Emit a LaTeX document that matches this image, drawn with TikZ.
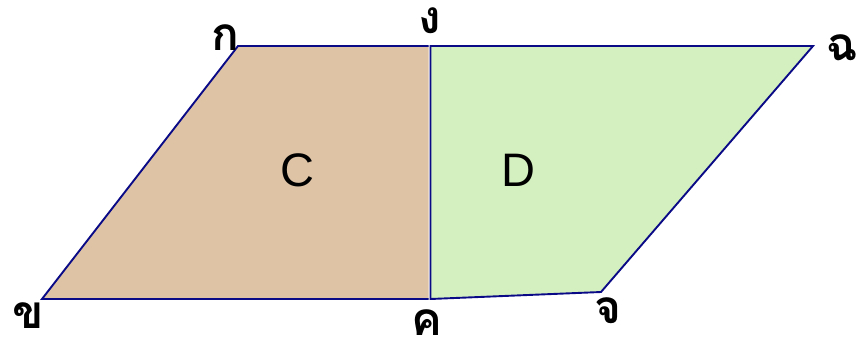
\documentclass[tikz,border=0pt]{standalone}
\usepackage{fontspec}
\setmainfont{Liberation Sans}
\newfontfamily\thaifont[Script=Thai]{Loma}
\definecolor{navyline}{RGB}{10,10,135}
\definecolor{tanfill}{RGB}{222,195,165}
\definecolor{greenfill}{RGB}{212,240,192}
\tikzset{
  shapeline/.style={draw=navyline, line width=1.9pt, line join=miter},
  thailabel/.style={font=\thaifont\bfseries\fontsize{46}{48}\selectfont, inner sep=0pt, anchor=base, text depth=0pt},
  regionlabel/.style={font=\fontsize{47}{50}\selectfont, inner sep=0pt, anchor=base}
}
\begin{document}
\begin{tikzpicture}[x=1pt,y=-1pt]
\useasboundingbox (0,0) rectangle (859,338);
\coordinate (A) at (238,46);
\coordinate (G) at (428.5,46);
\coordinate (G2) at (430.5,46);
\coordinate (F) at (813,46);
\coordinate (B) at (42,299);
\coordinate (K) at (428.5,299);
\coordinate (K2) at (430.5,299);
\coordinate (J) at (601,292);
\fill[tanfill] (A) -- (G) -- (K) -- (B) -- cycle;
\draw[shapeline] (G) -- (A) -- (B) -- (K);
\draw[shapeline, fill=greenfill] (G2) -- (F) -- (J) -- (K2) -- cycle;
\node[thailabel] (lA) at (225,50) {ก};
\node[thailabel] (lG) at (430,33) {ง};
\node[thailabel] (lF) at (842,60) {ฉ};
\node[thailabel] (lB) at (28,328) {ข};
\node[thailabel] (lK) at (427,335) {ค};
\node[thailabel] (lJ) at (608,323) {จ};
\node[regionlabel] (C) at (297,186.5) {C};
\node[regionlabel] (D) at (518,186.5) {D};
\end{tikzpicture}
\end{document}
